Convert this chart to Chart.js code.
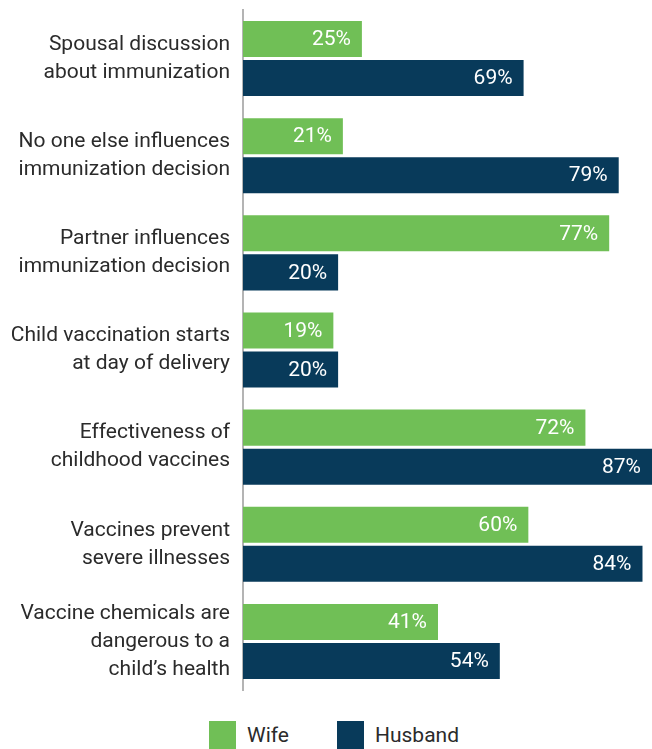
<!DOCTYPE html>
<html>
<head>
<meta charset="utf-8">
<script src="https://cdn.jsdelivr.net/npm/chart.js@4.4.1/dist/chart.umd.min.js"></script>
<style>
    body { margin: 0; background: #fff; font-family: Roboto, sans-serif; }
    #wrap { position: relative; width: 652px; height: 692px; }
    #legend { display: flex; justify-content: center; padding-left: 16px; margin-top: 29px; gap: 48px; }
    .item { display: flex; align-items: center; font-size: 21px; color: #2b2b2b; }
    .box { width: 27px; height: 28px; margin-right: 11px; }
</style>
</head>
<body>
<div id="wrap"><canvas id="myChart"></canvas></div>
<div id="legend"></div>
<script>
// Kategorier (flere linjer per etikett)
const categories = [
    ["Spousal discussion", "about immunization"],
    ["No one else influences", "immunization decision"],
    ["Partner influences", "immunization decision"],
    ["Child vaccination starts", "at day of delivery"],
    ["Effectiveness of", "childhood vaccines"],
    ["Vaccines prevent", "severe illnesses"],
    ["Vaccine chemicals are", "dangerous to a", "child’s health"]
];

const seriesNames = ["Wife", "Husband"];
const seriesColors = ["#70bf56", "#083a5a"];

// Bar lengths as drawn in the picture
const wifeValues = [25, 21, 77, 19, 72, 60, 41];
const husbandValues = [59, 79, 20, 20, 87, 84, 54]; // first bar is drawn shorter than its 69% label

// Text printed on the bars
const wifeLabels = ["25%", "21%", "77%", "19%", "72%", "60%", "41%"];
const husbandLabels = ["69%", "79%", "20%", "20%", "87%", "84%", "54%"];

const barLabels = [wifeLabels, husbandLabels];

// Skriv prosent inne i enden av hver stolpe
const barLabelPlugin = {
    id: 'barLabels',
    afterDatasetsDraw(chart) {
        const ctx = chart.ctx;
        const right = chart.chartArea.right;
        ctx.save();
        ctx.font = '21px Roboto';
        ctx.fillStyle = '#ffffff';
        ctx.textAlign = 'right';
        ctx.textBaseline = 'middle';
        chart.data.datasets.forEach((ds, di) => {
            chart.getDatasetMeta(di).data.forEach((bar, i) => {
                const x = Math.min(bar.x, right) - 11;
                ctx.fillText(barLabels[di][i], x, bar.y + 1);
            });
        });
        ctx.restore();
    }
};

new Chart(document.getElementById('myChart'), {
    type: 'bar',
    data: {
        labels: categories,
        datasets: [
            { label: seriesNames[0], data: wifeValues, backgroundColor: seriesColors[0] },
            { label: seriesNames[1], data: husbandValues, backgroundColor: seriesColors[1] }
        ]
    },
    options: {
        indexAxis: 'y',
        responsive: true,
        maintainAspectRatio: false,
        animation: false,
        categoryPercentage: 0.804,
        barPercentage: 0.923,
        layout: { padding: { top: 10, bottom: 2, left: 0, right: 0 } },
        plugins: {
            legend: { display: false },
            tooltip: { enabled: false }
        },
        scales: {
            x: {
                display: false,
                min: 0,
                max: 86
            },
            y: {
                grid: { display: false, drawTicks: false },
                border: { display: true, color: '#b4b4b4', width: 2 },
                ticks: {
                    color: '#2b2b2b',
                    padding: 13,
                    font: { family: 'Roboto', size: 21, lineHeight: 1.33 }
                },
                afterFit(scale) {
                    scale.width = 243;
                    scale.paddingTop = 0;
                    scale.paddingBottom = 0;
                }
            }
        }
    },
    plugins: [barLabelPlugin]
});

// Forklaring under diagrammet
const legend = document.getElementById('legend');
seriesNames.forEach((name, i) => {
    const item = document.createElement('div');
    item.className = 'item';
    const box = document.createElement('span');
    box.className = 'box';
    box.style.background = seriesColors[i];
    const text = document.createElement('span');
    text.textContent = name;
    item.appendChild(box);
    item.appendChild(text);
    legend.appendChild(item);
});
</script>
</body>
</html>
